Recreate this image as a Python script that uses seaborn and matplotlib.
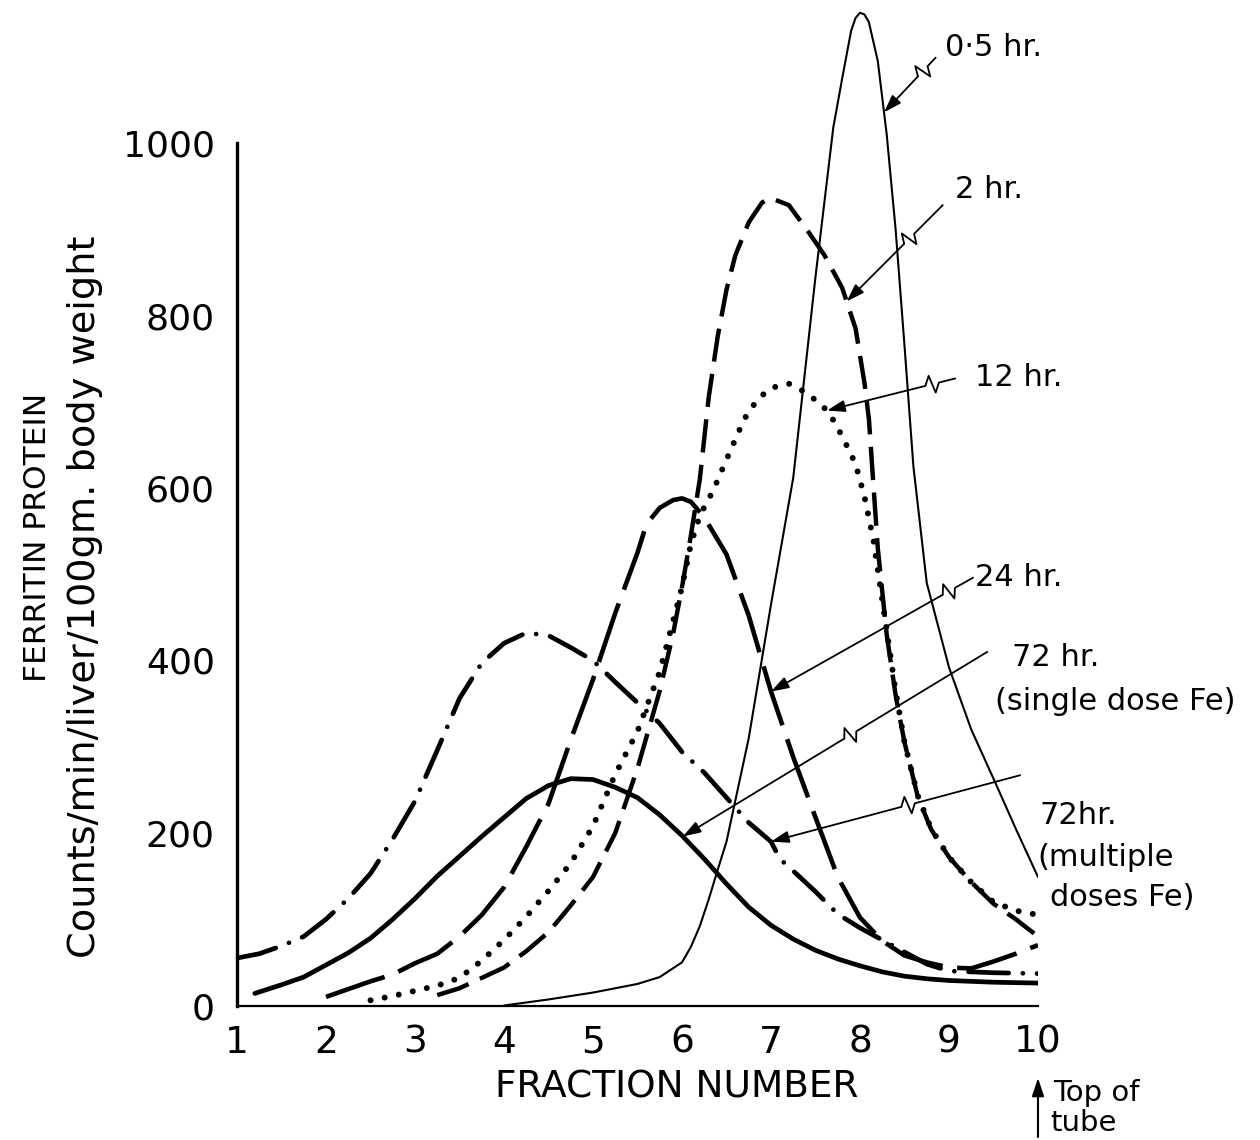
import numpy as np
import pandas as pd
import matplotlib
matplotlib.use("Agg")
import matplotlib.pyplot as plt
from matplotlib import font_manager
import seaborn as sns

# ---- ferritin radioactivity per fraction (sucrose gradient, fraction 10 = top of tube) ----
t05_x = [4.0, 4.5, 5.0, 5.5, 5.75, 6.0, 6.1, 6.2, 6.3, 6.4, 6.5, 6.75, 7.0, 7.25, 7.5,
         7.7, 7.8, 7.9, 7.95, 8.0, 8.05, 8.1, 8.2, 8.3, 8.4, 8.5, 8.6, 8.75, 9.0, 9.25,
         9.5, 9.75, 10.0]
t05_y = [0, 7, 15, 25, 33, 50, 68, 92, 123, 157, 190, 310, 465, 612, 845,
         1018, 1075, 1130, 1145, 1151, 1149, 1140, 1095, 1010, 900, 765, 625, 490, 392, 320,
         263, 205, 149]

t2_x = [3.25, 3.5, 3.75, 4.0, 4.25, 4.5, 4.75, 5.0, 5.25, 5.5, 5.75, 5.9, 6.0, 6.1, 6.2,
        6.3, 6.4, 6.5, 6.6, 6.75, 6.9, 7.0, 7.2, 7.4, 7.6, 7.8, 7.95, 8.05, 8.1, 8.15,
        8.2, 8.3, 8.4, 8.5, 8.65, 8.8, 9.0, 9.25, 9.5, 9.75, 10.0]
t2_y = [12, 20, 32, 44, 63, 85, 116, 149, 200, 275, 365, 431, 485, 545, 610,
        705, 775, 830, 870, 908, 931, 936, 928, 900, 870, 832, 785, 722, 680, 605,
        530, 430, 360, 305, 242, 204, 172, 143, 118, 100, 80]

t12_x = [2.5, 2.75, 3.0, 3.25, 3.5, 3.75, 4.0, 4.25, 4.5, 4.75, 5.0, 5.25, 5.5, 5.75,
         6.0, 6.1, 6.2, 6.35, 6.5, 6.7, 6.85, 7.0, 7.2, 7.35, 7.5, 7.65, 7.8, 7.95,
         8.05, 8.15, 8.25, 8.4, 8.5, 8.65, 8.8, 9.0, 9.25, 9.5, 9.75, 10.0]
t12_y = [6, 11, 17, 23, 32, 52, 76, 103, 133, 165, 208, 268, 318, 387,
         485, 535, 568, 597, 633, 680, 703, 716, 721, 713, 702, 688, 660, 628,
         590, 540, 470, 365, 305, 243, 205, 172, 143, 120, 110, 105]

t24_x = [2.0, 2.25, 2.5, 2.75, 3.0, 3.25, 3.5, 3.75, 4.0, 4.25, 4.5, 4.75, 5.0, 5.25,
         5.5, 5.6, 5.75, 5.9, 6.0, 6.1, 6.25, 6.5, 6.75, 7.0, 7.25, 7.5, 7.75, 8.0,
         8.25, 8.5, 8.75, 9.0, 9.25, 9.5, 9.75, 10.0]
t24_y = [10, 19, 28, 36, 49, 60, 80, 105, 137, 184, 234, 308, 378, 455,
         525, 558, 577, 586, 588, 584, 566, 523, 452, 364, 288, 218, 149, 102,
         75, 58, 50, 44, 43, 51, 60, 70]

t72s_x = [1.2, 1.5, 1.75, 2.0, 2.25, 2.5, 2.75, 3.0, 3.25, 3.5, 3.75, 4.0, 4.25, 4.5,
          4.75, 5.0, 5.25, 5.5, 5.75, 6.0, 6.25, 6.5, 6.75, 7.0, 7.25, 7.5, 7.75, 8.0,
          8.25, 8.5, 8.75, 9.0, 9.5, 10.0]
t72s_y = [14, 24, 33, 47, 61, 78, 100, 124, 150, 173, 196, 218, 240, 255,
          263, 262, 253, 241, 221, 197, 170, 141, 114, 93, 77, 64, 54, 46,
          39, 34, 31, 29, 27, 26]

t72m_x = [1.0, 1.25, 1.5, 1.75, 2.0, 2.25, 2.5, 2.75, 3.0, 3.25, 3.5, 3.75, 4.0, 4.25,
          4.5, 4.75, 5.0, 5.25, 5.5, 5.75, 6.0, 6.25, 6.5, 6.75, 7.0, 7.1, 7.25, 7.5,
          7.75, 8.0, 8.25, 8.5, 8.75, 9.0, 9.5, 10.0]
t72m_y = [55, 60, 69, 80, 100, 124, 153, 193, 237, 296, 356, 397, 420, 432,
          429, 415, 400, 375, 351, 327, 294, 270, 241, 212, 190, 170, 156, 132,
          106, 90, 76, 62, 48, 40, 38, 37]

x_ticks = list(range(1, 11))
y_ticks = [0, 200, 400, 600, 800, 1000]

# ---- style ----
sns.set_theme(style="white")
installed = {f.name for f in font_manager.fontManager.ttflist}
narrow = "Liberation Sans Narrow" if "Liberation Sans Narrow" in installed else "DejaVu Sans"
plt.rcParams["font.family"] = ["DejaVu Sans"]
for key in ("text.color", "axes.labelcolor", "xtick.color", "ytick.color", "axes.edgecolor"):
    plt.rcParams[key] = "black"

W, H = 1260, 1140
fig = plt.figure(figsize=(W / 100, H / 100), dpi=100)
fig.patch.set_facecolor("white")
x0_px, x1_px, y0_px = 237, 1038, 1005.5
px_per_count = 0.8625
ytop = 1165
ax = fig.add_axes([x0_px / W, (H - y0_px) / H, (x1_px - x0_px) / W, ytop * px_per_count / H])
ax.set_facecolor("white")
ax.set_xlim(1, 10)
ax.set_ylim(0, ytop)

series = [
    (t05_x, t05_y, dict(lw=1.5, linestyle="-")),
    (t2_x, t2_y, dict(lw=3.2, linestyle=(0, (7.5, 2.8)))),
    (t12_x, t12_y, dict(lw=4.3, linestyle=(0, (0.01, 2.4)), dash_capstyle="round")),
    (t24_x, t24_y, dict(lw=3.3, linestyle=(0, (13.5, 3.2)))),
    (t72s_x, t72s_y, dict(lw=3.4, linestyle="-", solid_capstyle="round")),
    (t72m_x, t72m_y, dict(lw=3.4, linestyle=(0, (8.5, 3.0, 0.01, 3.0)), dash_capstyle="round")),
]
for xs, ys, kw in series:
    sns.lineplot(x=xs, y=ys, ax=ax, color="black", estimator=None, errorbar=None,
                 legend=False, **kw)

# ---- axes ----
for side in ("top", "right"):
    ax.spines[side].set_visible(False)
ax.spines["left"].set_linewidth(2.4)
ax.spines["bottom"].set_linewidth(1.6)
ax.spines["left"].set_bounds(0, 1000)
ax.spines["bottom"].set_bounds(1, 10)
ax.set_xticks(x_ticks)
ax.set_yticks(y_ticks)
ax.set_xticklabels([str(v) for v in x_ticks], family=[narrow, "DejaVu Sans"], fontsize=27)
ax.set_yticklabels([str(v) for v in y_ticks], fontsize=26)
ax.tick_params(axis="y", direction="in", length=12, width=2.0, pad=16, colors="black")
ax.tick_params(axis="x", direction="in", length=7, width=1.5, pad=14, colors="black")
ax.grid(False)

ax.set_xlabel("FRACTION NUMBER", family=[narrow, "DejaVu Sans"], fontsize=27, va="center")
ax.xaxis.set_label_coords((677 - x0_px) / (x1_px - x0_px), (y0_px - 1088) / (ytop * px_per_count))

fig.text(38 / W, 1 - 537 / H, "FERRITIN PROTEIN", rotation=90, ha="center", va="center",
         family=[narrow, "DejaVu Sans"], fontsize=22.5)
fig.text(85 / W, 1 - 597 / H, "Counts/min/liver/100gm. body weight", rotation=90,
         ha="center", va="center", family=[narrow, "DejaVu Sans"], fontsize=27.5)


# ---- curve labels with broken leader arrows ----
def pointer(start, tip, frac, amp=9.0, half=7.0):
    T = ax.transData
    s = T.transform(start)
    e = T.transform(tip)
    d = e - s
    L = np.hypot(*d)
    u = d / L
    n = np.array([-u[1], u[0]])
    m = s + u * (frac * L)
    pts = np.array([s, m - u * half, m - u * half * 0.2 + n * amp,
                    m + u * half * 0.2 - n * amp, m + u * half])
    pd_ = T.inverted().transform(pts)
    ax.plot(pd_[:, 0], pd_[:, 1], color="black", lw=1.3, clip_on=False)
    ax.annotate("", xy=tip, xytext=tuple(pd_[-1]), annotation_clip=False,
                arrowprops=dict(arrowstyle="-|>,head_length=0.9,head_width=0.3",
                                color="black", lw=1.3, shrinkA=0, shrinkB=0))


pointer((8.85, 1099), (8.27, np.interp(8.27, t05_x, t05_y)), 0.25)
pointer((8.93, 928), (7.85, np.interp(7.85, t2_x, t2_y)), 0.35)
pointer((9.07, 727), (7.63, np.interp(7.63, t12_x, t12_y)), 0.18)
pointer((9.27, 496), (7.0, np.interp(7.0, t24_x, t24_y)), 0.12)
pointer((9.43, 410), (6.01, np.interp(6.01, t72s_x, t72s_y)), 0.45)
pointer((9.80, 267), (7.0, np.interp(7.0, t72m_x, t72m_y)), 0.45)

labels = [
    ("0·5 hr.", 945, 48),
    ("2 hr.", 955, 190),
    ("12 hr.", 975, 378),
    ("24 hr.", 975, 578),
    ("72 hr.", 1012, 657),
    ("(single dose Fe)", 995, 702),
    ("72hr.", 1040, 815),
    ("(multiple", 1037, 857),
    ("doses Fe)", 1050, 897),
]
for txt, px, py in labels:
    fig.text(px / W, 1 - py / H, txt, ha="left", va="center", fontsize=22)

# top-of-tube marker below fraction 10
ax.annotate("", xy=(10, -(1078 - y0_px) / px_per_count), xytext=(10, -(1137 - y0_px) / px_per_count),
            annotation_clip=False,
            arrowprops=dict(arrowstyle="-|>,head_length=0.9,head_width=0.3", color="black",
                            lw=1.5, shrinkA=0, shrinkB=0))
fig.text(1053 / W, 1 - 1093 / H, "Top of", ha="left", va="center",
         family=[narrow, "DejaVu Sans"], fontsize=21)
fig.text(1050 / W, 1 - 1123 / H, "tube", ha="left", va="center",
         family=[narrow, "DejaVu Sans"], fontsize=21)

fig.savefig("out.png", dpi=100, facecolor="white")
